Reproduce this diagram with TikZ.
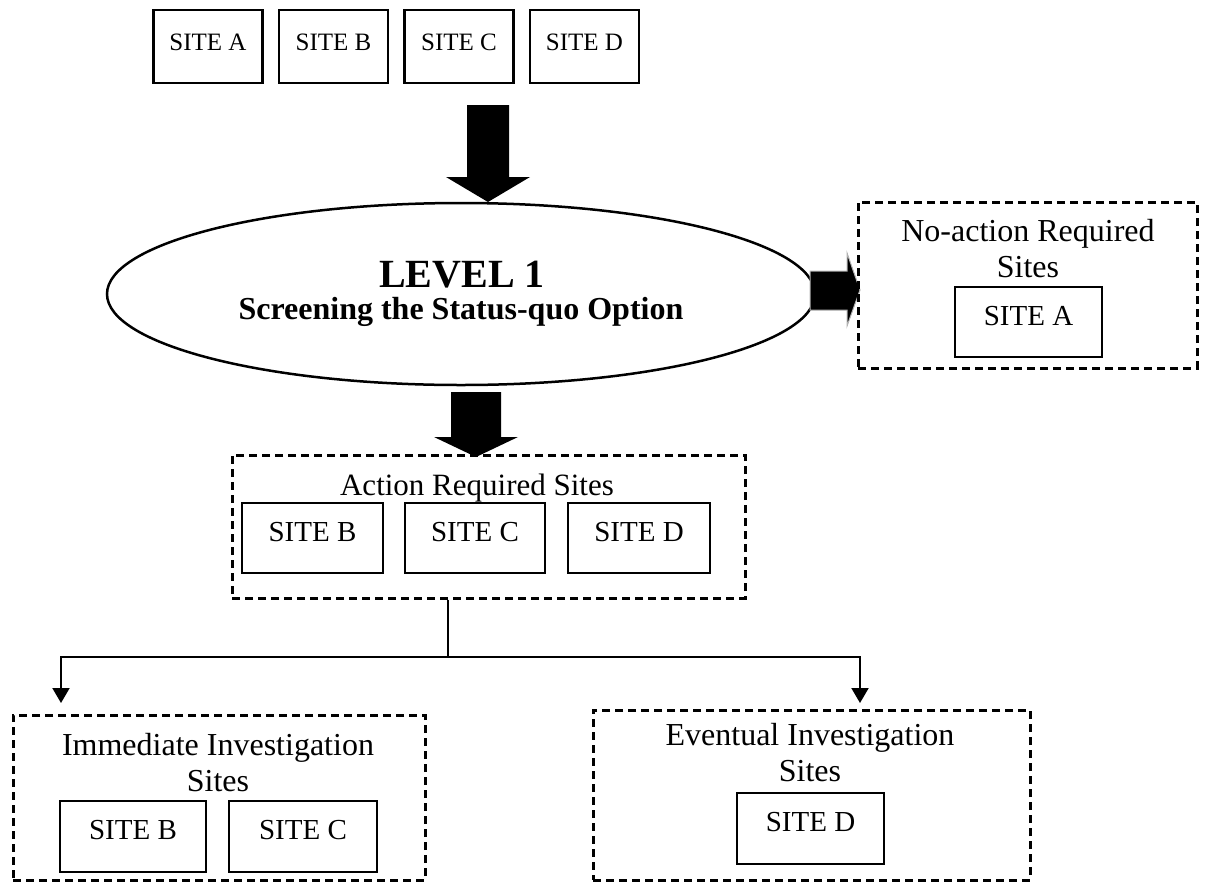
\documentclass[tikz,border=0pt]{standalone}
\usepackage{fontspec}
\setmainfont{Liberation Serif}
\usetikzlibrary{arrows.meta,shapes.geometric,calc}
\begin{document}
\begin{tikzpicture}[x=1pt,y=-1pt,
  sitebox/.style={draw, line width=2.5pt, inner sep=0pt, minimum height=70pt},
  topsite/.style={sitebox, minimum width=109pt, minimum height=73pt,
    font=\fontsize{25}{29}\selectfont, text height=16.5pt, text depth=8pt},
  midsite/.style={sitebox, font=\fontsize{29}{34}\selectfont,
    text height=19pt, text depth=13pt},
  groupbox/.style={draw, line width=3pt, dash pattern=on 8pt off 5pt, inner sep=0pt},
  grouptitle/.style={font=\fontsize{32}{36}\selectfont, align=center, inner sep=0pt},
  blockarrow/.style={fill=black},
  link/.style={line width=2pt},
  tip/.style={-{Triangle[width=17pt,length=15pt]}}
]
\useasboundingbox (0,0) rectangle (1208,884);

% candidate sites
\node[topsite] (sa) at (208,46.5) {SITE A};
\node[topsite] (sb) at (333.5,46.5) {SITE B};
\node[topsite] (sc) at (459,46.5) {SITE C};
\node[topsite] (sd) at (584.5,46.5) {SITE D};

% screening level
\node[ellipse, draw, line width=2.5pt, minimum width=708pt, minimum height=182pt, inner sep=0pt] (lvl) at (461,294) {};
\node[font=\fontsize{40}{44}\selectfont\bfseries, anchor=base, inner sep=0pt] (lvltitle) at (462,287) {LEVEL 1};
\node[font=\fontsize{32}{36}\selectfont\bfseries, anchor=base, inner sep=0pt] (lvlsub) at (461,319) {Screening the Status-quo Option};

% block arrows
\fill[blockarrow] (467,105) -- (509,105) -- (509,177) -- (530,177) -- (488,202) -- (446,177) -- (467,177) -- cycle;
\fill[blockarrow] (451,392) -- (501,392) -- (501,437) -- (518,437) -- (476,457) -- (434,437) -- (451,437) -- cycle;
\filldraw[fill=black, draw=gray!60, line width=1pt] (810,271) -- (847,271) -- (847,253) -- (860,290) -- (847,326) -- (847,310) -- (810,310) -- cycle;

% no action group
\node[groupbox, minimum width=339pt, minimum height=166pt] (noact) at (1027.5,285) {};
\node[grouptitle] (noacttitle) at (1028,249) {No-action Required\\Sites};
\node[midsite, minimum width=147pt] (na) at (1028.5,322) {SITE A};

% action group
\node[groupbox, minimum width=513pt, minimum height=143pt] (act) at (488.5,526.5) {};
\node[grouptitle, font=\fontsize{31}{36}\selectfont, anchor=base] (acttitle) at (477,495) {Action Required Sites};
\node[midsite, minimum width=141pt] (ab) at (312.5,538) {SITE B};
\node[midsite, minimum width=140pt] (ac) at (475,538) {SITE C};
\node[midsite, minimum width=142pt] (ad) at (639,538) {SITE D};

% investigation groups
\node[groupbox, minimum width=412pt, minimum height=165pt] (imm) at (219,797.5) {};
\node[grouptitle] (immtitle) at (218,763) {Immediate Investigation\\Sites};
\node[midsite, minimum width=146pt, minimum height=71pt] (ib) at (133,836.5) {SITE B};
\node[midsite, minimum width=148pt, minimum height=71pt] (ic) at (303,836.5) {SITE C};

\node[groupbox, minimum width=437pt, minimum height=170pt] (ev) at (811.5,795) {};
\node[grouptitle] (evtitle) at (810,753) {Eventual Investigation\\Sites};
\node[midsite, minimum width=147pt, minimum height=71pt] (ed) at (810.5,828.5) {SITE D};

% split into the two investigation groups
\coordinate (fork) at (448,657);
\coordinate (immtip) at (61,703);
\coordinate (evtip) at (860,703);
\draw[link] (act.south -| fork) -- (fork);
\draw[link, tip] (fork) -| (immtip);
\draw[link, tip] (fork) -| (evtip);
\end{tikzpicture}
\end{document}
